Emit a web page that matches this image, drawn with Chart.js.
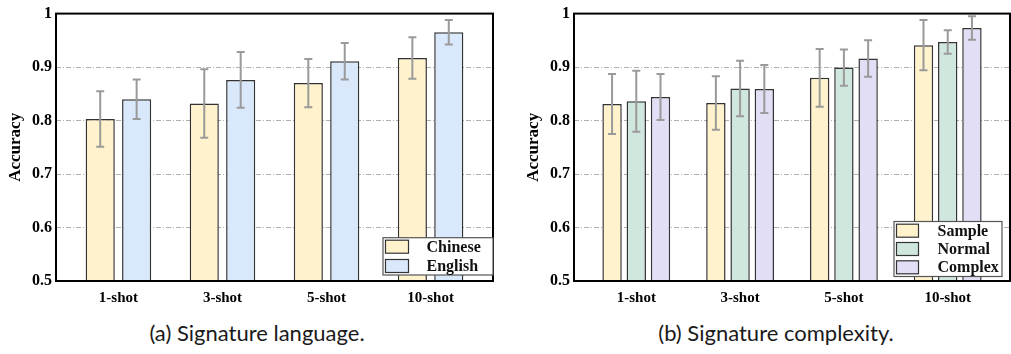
<!DOCTYPE html>
<html>
<head>
<meta charset="utf-8">
<script src="https://cdn.jsdelivr.net/npm/chart.js@4.4.1/dist/chart.umd.min.js"></script>
<style>
  html, body { margin: 0; padding: 0; background: #fff; }
  body { width: 1011px; height: 354px; position: relative; overflow: hidden; }
  .panel { position: absolute; top: 0; height: 312px; }
  #wrapA { left: 0; width: 500px; }
  #wrapB { left: 500px; width: 511px; }
  .caption {
    position: absolute; top: 320px; line-height: 26px;
    font-family: Lato, "Open Sans", sans-serif; font-size: 22px; color: #1a1a1a;
    white-space: nowrap; transform: translateX(-50%);
  }
</style>
</head>
<body>
<div class="panel" id="wrapA"><canvas id="chartA"></canvas></div>
<div class="panel" id="wrapB"><canvas id="chartB"></canvas></div>
<div class="caption" style="left:257px">(a) Signature language.</div>
<div class="caption" style="left:776px">(b) Signature complexity.</div>

<script>
// Shot settings on the x axis and accuracy ticks on the y axis
const categories = ['1-shot', '3-shot', '5-shot', '10-shot'];
const yTicks = [0.5, 0.6, 0.7, 0.8, 0.9, 1];

// (a) accuracy by signature language, with standard deviation
const chinese    = [0.803, 0.832, 0.870, 0.917];
const chineseErr = [0.052, 0.064, 0.045, 0.039];
const english    = [0.840, 0.876, 0.911, 0.965];
const englishErr = [0.037, 0.052, 0.034, 0.023];

// (b) accuracy by signature complexity, with standard deviation
const sample     = [0.831, 0.833, 0.880, 0.941];
const sampleErr  = [0.056, 0.050, 0.054, 0.047];
const normal     = [0.836, 0.860, 0.899, 0.947];
const normalErr  = [0.057, 0.052, 0.034, 0.022];
const complex    = [0.844, 0.859, 0.916, 0.973];
const complexErr = [0.043, 0.045, 0.034, 0.022];

const SERIF = '"Liberation Serif", "Times New Roman", serif';

// Vertical error bars with caps, placed through the chart's own scales
const errorBars = {
  id: 'errorBars',
  afterDatasetsDraw(chart) {
    const { ctx } = chart;
    const y = chart.scales.y;
    ctx.save();
    ctx.strokeStyle = '#9a9a9a';
    ctx.lineWidth = 2;
    chart.data.datasets.forEach((ds, di) => {
      const meta = chart.getDatasetMeta(di);
      meta.data.forEach((bar, i) => {
        const v = ds.data[i].y, e = ds.errors[i];
        const top = y.getPixelForValue(v + e);
        const bot = y.getPixelForValue(v - e);
        const x = bar.x, cap = 4;
        ctx.beginPath();
        ctx.moveTo(x, top); ctx.lineTo(x, bot);
        ctx.moveTo(x - cap, top); ctx.lineTo(x + cap, top);
        ctx.moveTo(x - cap, bot); ctx.lineTo(x + cap, bot);
        ctx.stroke();
      });
    });
    ctx.restore();
  }
};

// Closed black frame around the plotting area
const frame = {
  id: 'frame',
  afterDraw(chart) {
    const { ctx, chartArea: a } = chart;
    ctx.save();
    ctx.strokeStyle = '#000';
    ctx.lineWidth = 2;
    ctx.strokeRect(a.left, a.top, a.right - a.left, a.bottom - a.top);
    ctx.restore();
  }
};

// Boxed legend inside the lower-right corner of the plot
const boxLegend = {
  id: 'boxLegend',
  afterDraw(chart, args, o) {
    const { ctx, chartArea: a } = chart;
    const sets = chart.data.datasets;
    const h = o.pad * 2 + (sets.length - 1) * o.rowH + o.swH;
    const right = a.right - o.insetRight;
    const bottom = a.bottom - o.insetBottom;
    const left = right - o.boxW;
    const top = bottom - h;
    ctx.save();
    ctx.fillStyle = '#fff';
    ctx.fillRect(left, top, o.boxW, h);
    ctx.strokeStyle = '#555';
    ctx.lineWidth = 1.2;
    ctx.strokeRect(left, top, o.boxW, h);
    ctx.font = 'bold 16px ' + SERIF;
    ctx.textBaseline = 'middle';
    ctx.textAlign = 'left';
    sets.forEach((ds, i) => {
      const sy = top + o.pad + i * o.rowH;
      ctx.fillStyle = ds.backgroundColor;
      ctx.fillRect(left + 2.5, sy, o.swW, o.swH);
      ctx.strokeStyle = '#333';
      ctx.lineWidth = 1.2;
      ctx.strokeRect(left + 2.5, sy, o.swW, o.swH);
      ctx.fillStyle = '#111';
      ctx.fillText(ds.label, left + 2.5 + o.textOff, sy + o.swH / 2 + 1);
    });
    ctx.restore();
  }
};

function series(label, values, errors, color) {
  return {
    label,
    data: values.map((v, i) => ({ x: i, y: v })),
    errors,
    backgroundColor: color,
    borderColor: '#333',
    borderWidth: 1.5,
    categoryPercentage: 0.7,
    barPercentage: 0.8
  };
}

function makeChart(id, datasets, yWidth, titlePad, padRight, legendOpts) {
  return new Chart(document.getElementById(id), {
    type: 'bar',
    data: { datasets },
    plugins: [errorBars, frame, boxLegend],
    options: {
      responsive: true,
      maintainAspectRatio: false,
      animation: false,
      events: [],
      layout: { padding: { top: 10, right: padRight, left: 0, bottom: 0 } },
      plugins: {
        legend: { display: false },
        tooltip: { enabled: false },
        boxLegend: legendOpts
      },
      scales: {
        x: {
          type: 'linear',
          offset: false,
          min: -0.6,
          max: 3.6,
          afterBuildTicks: s => { s.ticks = categories.map((c, i) => ({ value: i })); },
          afterFit: s => { s.height = 31; },
          ticks: {
            callback: v => categories[v],
            font: { family: SERIF, weight: 'bold', size: 15 },
            color: '#000',
            padding: 8,
            maxRotation: 0,
            autoSkip: false
          },
          grid: { display: false, drawTicks: false, offset: false },
          border: { display: false }
        },
        y: {
          min: 0.5,
          max: 1,
          afterBuildTicks: s => { s.ticks = yTicks.map(v => ({ value: v })); },
          afterFit: s => { s.width = yWidth; },
          ticks: {
            callback: v => String(v),
            font: { family: SERIF, weight: 'bold', size: 16 },
            color: '#000',
            padding: 4
          },
          grid: { color: '#b0b0b0', lineWidth: 1, drawTicks: false },
          border: { display: false, dash: [5, 2, 1, 2] },
          title: {
            display: true,
            text: 'Accuracy',
            font: { family: SERIF, weight: 'bold', size: 17 },
            color: '#000',
            padding: { top: titlePad, bottom: 0 }
          }
        }
      }
    }
  });
}

makeChart('chartA', [
  series('Chinese', chinese, chineseErr, '#fff2cc'),
  series('English', english, englishErr, '#dae8fc')
], 56, 5, 7, { insetRight: 0, insetBottom: 6, boxW: 110, pad: 2.5, rowH: 19.3, swW: 23, swH: 13, textOff: 41 });

makeChart('chartB', [
  series('Sample', sample, sampleErr, '#fff2cc'),
  series('Normal', normal, normalErr, '#d0e7dd'),
  series('Complex', complex, complexErr, '#e1def5')
], 74, 23, 1, { insetRight: 8, insetBottom: 4.5, boxW: 108, pad: 2.7, rowH: 18.3, swW: 22, swH: 13, textOff: 41 });
</script>
</body>
</html>
